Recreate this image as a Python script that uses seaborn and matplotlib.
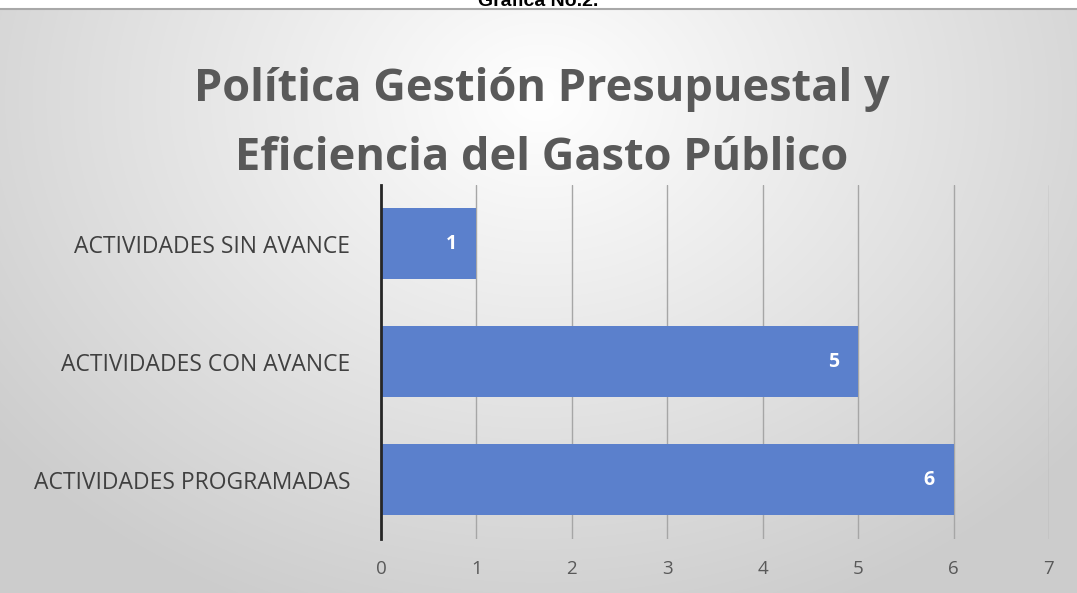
import numpy as np
import pandas as pd
import matplotlib
matplotlib.use("Agg")
import matplotlib.pyplot as plt
import seaborn as sns

categories = ["ACTIVIDADES SIN AVANCE", "ACTIVIDADES CON AVANCE", "ACTIVIDADES PROGRAMADAS"]
values = [1, 5, 6]
x_ticks = [0, 1, 2, 3, 4, 5, 6, 7]
title = "Política Gestión Presupuestal y\nEficiencia del Gasto Público"
caption = "Gráfica No.2."

sns.set_theme(style="white")
plt.rcParams['font.family'] = ['Open Sans', 'DejaVu Sans']

W, H = 1077, 593
fig = plt.figure(figsize=(W / 100, H / 100), dpi=100)
fig.patch.set_facecolor("white")

# background gradient panel
top_line = 9
bg = fig.add_axes([0, 0, 1, (H - top_line) / H])
yy, xx = np.mgrid[0:H - top_line, 0:W]
cx, cy = 540, 90
d = np.sqrt(((xx - cx) / 700.0) ** 2 + ((yy - cy) / 560.0) ** 2)
g = np.clip(1.0 - 0.2 * d, 0.8, 1.0)
img = np.dstack([g, g, g])
bg.imshow(img, aspect="auto", extent=[0, 1, 0, 1], origin="upper")
bg.set_axis_off()
fig.add_artist(plt.Line2D([0, 1], [1 - top_line / H, 1 - top_line / H], color="#a8a8a8", lw=1.5))

fig.text(0.5, 1 - 2 / H, caption, ha="center", va="center", fontsize=14, fontweight="bold",
         family=["Liberation Sans", "DejaVu Sans"], color="black")

fig.text(542 / W, 1 - 124 / H, title, ha="center", va="center", fontsize=32.5, fontweight="bold",
         color="#595959", linespacing=1.68)

ax = fig.add_axes([381 / W, 1 - 539 / H, (1049 - 381) / W, (539 - 184.5) / H])
ax.patch.set_alpha(0)
df = pd.DataFrame({"cat": categories, "val": values})
sns.barplot(data=df, x="val", y="cat", orient="h", color="#5b80cc", saturation=1,
            width=0.6, ax=ax, zorder=3, edgecolor="none", linewidth=0)
ax.set_xlim(0, 7)
ax.set_ylim(2.5, -0.5)
ax.set_xticks(x_ticks)
ax.set_xticklabels([str(t) for t in x_ticks], fontsize=13.5, color="#595959")
ax.tick_params(axis="x", length=0, pad=15)
ax.tick_params(axis="y", length=0, pad=22, labelsize=16.5, labelcolor="#404040")
ax.set_xlabel("")
ax.set_ylabel("")
for t in x_ticks[1:]:
    ax.axvline(t, color="#a6a6a6", lw=1, zorder=1)
for s in ["top", "right", "bottom"]:
    ax.spines[s].set_visible(False)
ax.spines["left"].set_color("#262626")
ax.spines["left"].set_linewidth(2)
ax.spines["left"].set_zorder(5)

for i, v in enumerate(values):
    ax.text(v - 0.26, i, str(v), ha="center", va="center", color="white",
            fontsize=14, fontweight="bold", zorder=6)

fig.savefig("out.png", dpi=100)
